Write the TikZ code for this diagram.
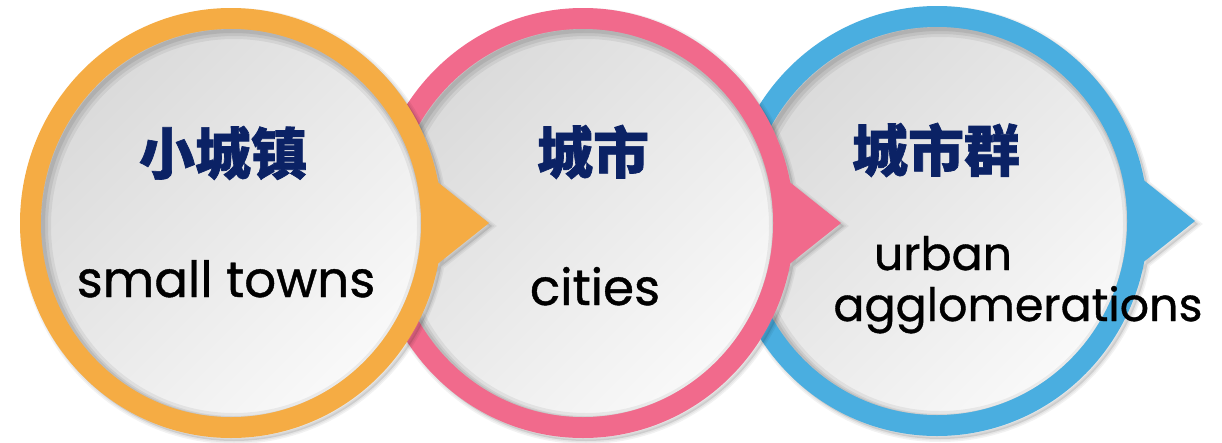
\documentclass[tikz,border=0pt]{standalone}
\usepackage{fontspec}
\setmainfont{Poppins}[FakeBold=0.8]
\newfontfamily\cjk{Noto Sans CJK SC}[BoldFeatures={FakeBold=1.2}]
\definecolor{corange}{HTML}{F5AC44}
\definecolor{cpink}{HTML}{F16A8C}
\definecolor{cblue}{HTML}{4AAEE0}
\definecolor{cnavy}{HTML}{0B2265}
\definecolor{gdark}{HTML}{DADADA}
\definecolor{glight}{HTML}{F9F9F9}
\tikzset{
  zhlabel/.style={text=cnavy, font=\cjk\bfseries\fontsize{56}{60}\selectfont, inner sep=0pt},
  enlabel/.style={text=black, font=\fontsize{50}{56}\selectfont, inner sep=0pt, anchor=base},
  enlabelsmall/.style={enlabel, font=\fontsize{46}{52}\selectfont},
  bubble/.style={insert path={ellipse [x radius=211pt, y radius=215pt] ++(150,86) -- ++(108,-86) -- ++(-108,-86) -- cycle}},
  inner disk/.style={insert path={ellipse [x radius=190pt, y radius=194pt]}}
}
\begin{document}
\begin{tikzpicture}[x=1pt,y=-1pt]
\useasboundingbox[fill=white] (0,0) rectangle (1222,442);
\foreach \cx/\cy/\col in {937/221/cblue, 583/223/cpink, 231/223/corange} {
  % soft drop shadow
  \fill[black, opacity=0.10] ({\cx+3},{\cy+3}) [bubble];
  \draw[black, opacity=0.05, line width=6pt] ({\cx+3},{\cy+3}) [bubble];
  \draw[black, opacity=0.05, line width=3pt] ({\cx+3},{\cy+3}) [bubble];
  % coloured ring with pointer
  \fill[\col] (\cx,\cy) [bubble];
  % gradient disk
  \shade[top color=gdark, bottom color=glight, shading angle=45] (\cx,\cy) [inner disk];
  % inner shadow
  \begin{scope}
    \clip (\cx,\cy) [inner disk];
    \draw[black, opacity=0.06, line width=14pt] ({\cx+3},{\cy+3}) [inner disk];
    \draw[black, opacity=0.07, line width=8pt] ({\cx+3},{\cy+3}) [inner disk];
    \draw[black, opacity=0.08, line width=4pt] ({\cx+2},{\cy+2}) [inner disk];
  \end{scope}
}
\node[zhlabel] (zh1) at (223,153) {小城镇};
\node[zhlabel] (zh2) at (593,152) {城市};
\node[zhlabel] (zh3) at (936,150) {城市群};
\node[enlabel] (en1) at (226,297) {small towns};
\node[enlabel] (en2) at (595,305) {cities};
\node[enlabelsmall] (en3a) at (943,270) {urban};
\node[enlabelsmall] (en3b) at (1018,321) {agglomerations};
\end{tikzpicture}
\end{document}
